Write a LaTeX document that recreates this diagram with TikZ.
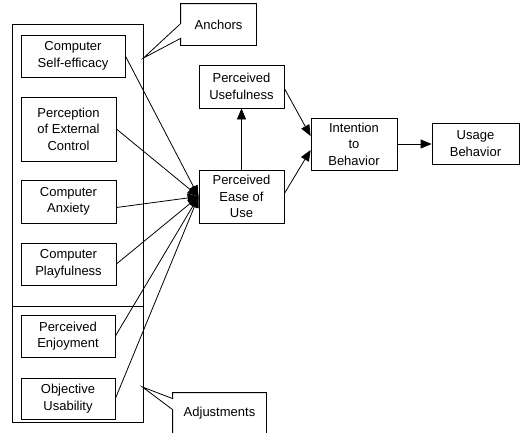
\documentclass[tikz,border=0pt]{standalone}
\usepackage{fontspec}
\setmainfont{Liberation Sans}
\usetikzlibrary{arrows.meta,calc}
\begin{document}
\begin{tikzpicture}[x=1pt,y=-1pt,
  box/.style={draw, line width=0.8pt, inner sep=0pt, align=center,
    font=\fontsize{13}{16.5}\selectfont},
  sz/.style 2 args={minimum width=#1pt, minimum height=#2pt},
  link/.style={line width=0.8pt, -{Triangle[length=11pt,width=9pt]}},
  edge/.style={line width=0.8pt, line join=miter}]
\clip (0,0) rectangle (520,432);
\fill[white] (0,0) rectangle (520,432);

% group frame with its divider
\node[box, sz={131}{398}] (grp) at (77.5,223) {};
\coordinate (dv) at (12,306);
\draw[edge] (dv -| grp.west) -- (dv -| grp.east);

% antecedents of perceived ease of use
\node[box, sz={104}{42}] (cse) at (73,56)     {Computer\\Self-efficacy};
\node[box, sz={95}{64}]  (pec) at (68.5,129)  {Perception\\of External\\Control};
\node[box, sz={95}{43}]  (ca)  at (68.5,201.5){Computer\\Anxiety};
\node[box, sz={95}{42}]  (cp)  at (68.5,264)  {Computer\\Playfulness};
\node[box, sz={94}{42}]  (pe)  at (68,336)    {Perceived\\Enjoyment};
\node[box, sz={94}{41}]  (ou)  at (68,398.5)  {Objective\\Usability};

% core model
\node[box, sz={85}{43}] (pu)   at (241.5,86.5)  {Perceived\\Usefulness};
\node[box, sz={85}{53}] (peou) at (241.5,196.5) {Perceived\\Ease of\\Use};
\node[box, sz={86}{52}] (itb)  at (354,144)     {Intention\\to\\Behavior};
\node[box, sz={87}{41}] (ub)   at (475.5,143.5) {Usage\\Behavior};

% callout: Anchors
\node[box, draw=none, sz={75}{41}] (anc) at (218.5,24.5) {Anchors};
\coordinate (anctip) at (143.5,58);
\draw[edge] (anc.north west) -- (anc.north east) -- (anc.south east)
  -- (anc.south west) -- ([yshift=7pt]anc.south west) -- (anctip)
  -- ([yshift=-20pt]anc.north west) -- cycle;

% callout: Adjustments
\node[box, draw=none, sz={93}{41}] (adj) at (219.5,413.5) {Adjustments};
\coordinate (adjtip) at (142.5,387);
\draw[edge] (adj.north west) -- (adj.north east) -- (adj.south east)
  -- (adj.south west) -- ([yshift=-17pt]adj.north west) -- (adjtip)
  -- ([yshift=-6pt]adj.north west) -- cycle;

% determinants into perceived ease of use
\draw[link] (cse.east) -- (peou.west);
\draw[link] (pec.east) -- (peou.west);
\draw[link] ([yshift=-6pt]ca.east) -- (peou.west);
\draw[link] (cp.east)  -- (peou.west);
\draw[link] (pe.east)  -- (peou.west);
\draw[link] (ou.east)  -- (peou.west);

% core relations
\draw[link] (peou.north) -- (pu.south);
\draw[link] ([yshift=-2pt]pu.east) -- ([yshift=8pt]itb.west);
\draw[link] ([yshift=3pt]peou.east) -- ([yshift=-6pt]itb.west);
\draw[link] (itb.east) -- (itb.east -| ub.west);
\end{tikzpicture}
\end{document}
